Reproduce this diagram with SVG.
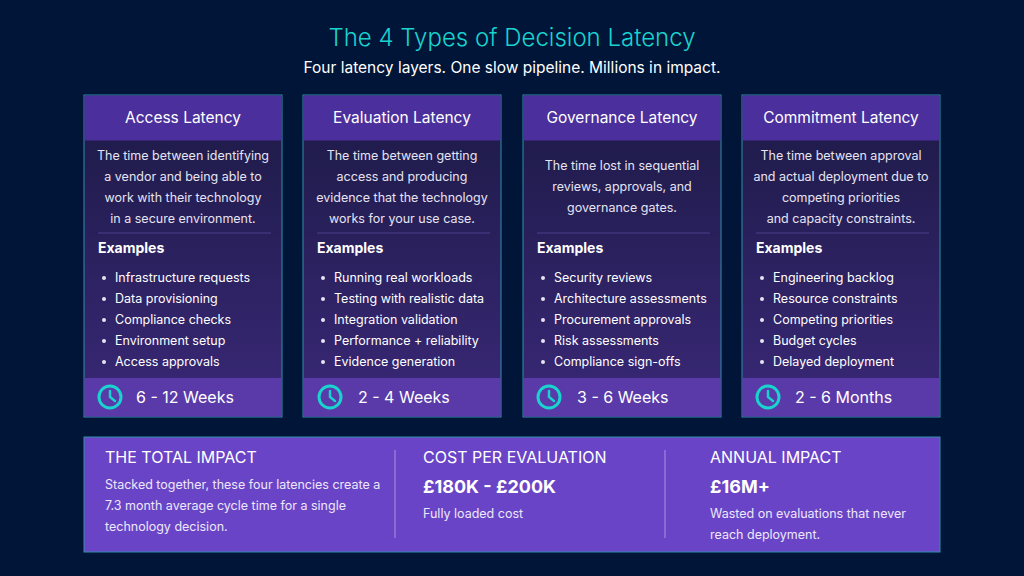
<svg xmlns="http://www.w3.org/2000/svg" width="1024" height="576" viewBox="0 0 1024 576">
<defs>
<linearGradient id="bg" x1="0" y1="0" x2="0" y2="1"><stop offset="0" stop-color="#1c1a45"/><stop offset="1" stop-color="#3a2878"/></linearGradient>
<g id="clock"><circle r="11" fill="none" stroke="#19d3cf" stroke-width="3"/><path d="M0,-6 V0 L5,4" fill="none" stroke="#19d3cf" stroke-width="2.5" stroke-linecap="round"/></g>
</defs>
<style>
text{font-family:Inter,"Noto Sans",sans-serif;fill:#fff}
.card{fill:url(#bg);stroke:#2e8fa8;stroke-width:1}
.hd{fill:#4b2f9c}
.ft{fill:#5a3aa8}
.ht{font-size:15.5px;text-anchor:middle}
.d{font-size:12.5px;text-anchor:middle;fill:#e6e4f2}
.ex{font-size:14px;font-weight:bold}
.li{font-size:12.5px;fill:#e6e4f2}
.ftt{font-size:16px}
.sep{stroke:#4a3f8a;stroke-width:1}
.bh{font-size:16px}
.bb{font-size:12.5px;fill:#ece8fa}
.big{font-size:18px;font-weight:bold}
</style>
<rect width="1024" height="576" fill="#001538"/>
<text x="512" y="46" text-anchor="middle" style="font-size:24px;font-weight:300;fill:#19d3cf">The 4 Types of Decision Latency</text>
<text x="512" y="73" text-anchor="middle" style="font-size:15.5px">Four latency layers. One slow pipeline. Millions in impact.</text>

<g id="card1">
<rect class="card" x="84" y="95" width="198" height="322"/>
<rect class="hd" x="84.5" y="95.5" width="197" height="45"/>
<text class="ht" x="183" y="123">Access Latency</text>
<text class="d" x="183" y="160">The time between identifying</text>
<text class="d" x="183" y="181">a vendor and being able to</text>
<text class="d" x="183" y="202">work with their technology</text>
<text class="d" x="183" y="223">in a secure environment.</text>
<line class="sep" x1="98" y1="233" x2="271" y2="233"/>
<text class="ex" x="98" y="253">Examples</text>
<g class="li"><text x="115" y="282">Infrastructure requests</text><text x="115" y="303">Data provisioning</text><text x="115" y="324">Compliance checks</text><text x="115" y="345">Environment setup</text><text x="115" y="366">Access approvals</text></g>
<g fill="#e6e4f2"><circle cx="104" cy="278" r="2"/><circle cx="104" cy="299" r="2"/><circle cx="104" cy="320" r="2"/><circle cx="104" cy="341" r="2"/><circle cx="104" cy="362" r="2"/></g>
<rect class="ft" x="84.5" y="378" width="197" height="38.5"/>
<use href="#clock" x="110" y="397"/>
<text class="ftt" x="136" y="403">6 - 12 Weeks</text>
</g>

<g id="card2">
<rect class="card" x="303" y="95" width="198" height="322"/>
<rect class="hd" x="303.5" y="95.5" width="197" height="45"/>
<text class="ht" x="402" y="123">Evaluation Latency</text>
<text class="d" x="402" y="160">The time between getting</text>
<text class="d" x="402" y="181">access and producing</text>
<text class="d" x="402" y="202">evidence that the technology</text>
<text class="d" x="402" y="223">works for your use case.</text>
<line class="sep" x1="317" y1="233" x2="490" y2="233"/>
<text class="ex" x="317" y="253">Examples</text>
<g class="li"><text x="334" y="282">Running real workloads</text><text x="334" y="303">Testing with realistic data</text><text x="334" y="324">Integration validation</text><text x="334" y="345">Performance + reliability</text><text x="334" y="366">Evidence generation</text></g>
<g fill="#e6e4f2"><circle cx="323" cy="278" r="2"/><circle cx="323" cy="299" r="2"/><circle cx="323" cy="320" r="2"/><circle cx="323" cy="341" r="2"/><circle cx="323" cy="362" r="2"/></g>
<rect class="ft" x="303.5" y="378" width="197" height="38.5"/>
<use href="#clock" x="330" y="397"/>
<text class="ftt" x="358" y="403">2 - 4 Weeks</text>
</g>

<g id="card3">
<rect class="card" x="523" y="95" width="198" height="322"/>
<rect class="hd" x="523.5" y="95.5" width="197" height="45"/>
<text class="ht" x="622" y="123">Governance Latency</text>
<text class="d" x="622" y="170">The time lost in sequential</text>
<text class="d" x="622" y="191">reviews, approvals, and</text>
<text class="d" x="622" y="212">governance gates.</text>
<line class="sep" x1="537" y1="233" x2="710" y2="233"/>
<text class="ex" x="537" y="253">Examples</text>
<g class="li"><text x="554" y="282">Security reviews</text><text x="554" y="303">Architecture assessments</text><text x="554" y="324">Procurement approvals</text><text x="554" y="345">Risk assessments</text><text x="554" y="366">Compliance sign-offs</text></g>
<g fill="#e6e4f2"><circle cx="543" cy="278" r="2"/><circle cx="543" cy="299" r="2"/><circle cx="543" cy="320" r="2"/><circle cx="543" cy="341" r="2"/><circle cx="543" cy="362" r="2"/></g>
<rect class="ft" x="523.5" y="378" width="197" height="38.5"/>
<use href="#clock" x="549" y="397"/>
<text class="ftt" x="577" y="403">3 - 6 Weeks</text>
</g>

<g id="card4">
<rect class="card" x="742" y="95" width="198" height="322"/>
<rect class="hd" x="742.5" y="95.5" width="197" height="45"/>
<text class="ht" x="841" y="123">Commitment Latency</text>
<text class="d" x="841" y="160">The time between approval</text>
<text class="d" x="841" y="181">and actual deployment due to</text>
<text class="d" x="841" y="202">competing priorities</text>
<text class="d" x="841" y="223">and capacity constraints.</text>
<line class="sep" x1="756" y1="233" x2="929" y2="233"/>
<text class="ex" x="756" y="253">Examples</text>
<g class="li"><text x="773" y="282">Engineering backlog</text><text x="773" y="303">Resource constraints</text><text x="773" y="324">Competing priorities</text><text x="773" y="345">Budget cycles</text><text x="773" y="366">Delayed deployment</text></g>
<g fill="#e6e4f2"><circle cx="762" cy="278" r="2"/><circle cx="762" cy="299" r="2"/><circle cx="762" cy="320" r="2"/><circle cx="762" cy="341" r="2"/><circle cx="762" cy="362" r="2"/></g>
<rect class="ft" x="742.5" y="378" width="197" height="38.5"/>
<use href="#clock" x="768" y="397"/>
<text class="ftt" x="795" y="403">2 - 6 Months</text>
</g>

<g id="impact">
<rect x="84" y="437" width="856" height="115" fill="#6a44c6" stroke="#2e8fa8" stroke-width="1"/>
<line x1="395" y1="450" x2="395" y2="538" stroke="#a992e0"/>
<line x1="665" y1="450" x2="665" y2="538" stroke="#a992e0"/>
<text class="bh" x="105" y="463">THE TOTAL IMPACT</text>
<text class="bb" x="105" y="489">Stacked together, these four latencies create a</text>
<text class="bb" x="105" y="510">7.3 month average cycle time for a single</text>
<text class="bb" x="105" y="531">technology decision.</text>
<text class="bh" x="423" y="463">COST PER EVALUATION</text>
<text class="big" x="423" y="493">£180K - £200K</text>
<text class="bb" x="423" y="518">Fully loaded cost</text>
<text class="bh" x="710" y="463">ANNUAL IMPACT</text>
<text class="big" x="710" y="493">£16M+</text>
<text class="bb" x="710" y="518">Wasted on evaluations that never</text>
<text class="bb" x="710" y="539">reach deployment.</text>
</g>
</svg>
